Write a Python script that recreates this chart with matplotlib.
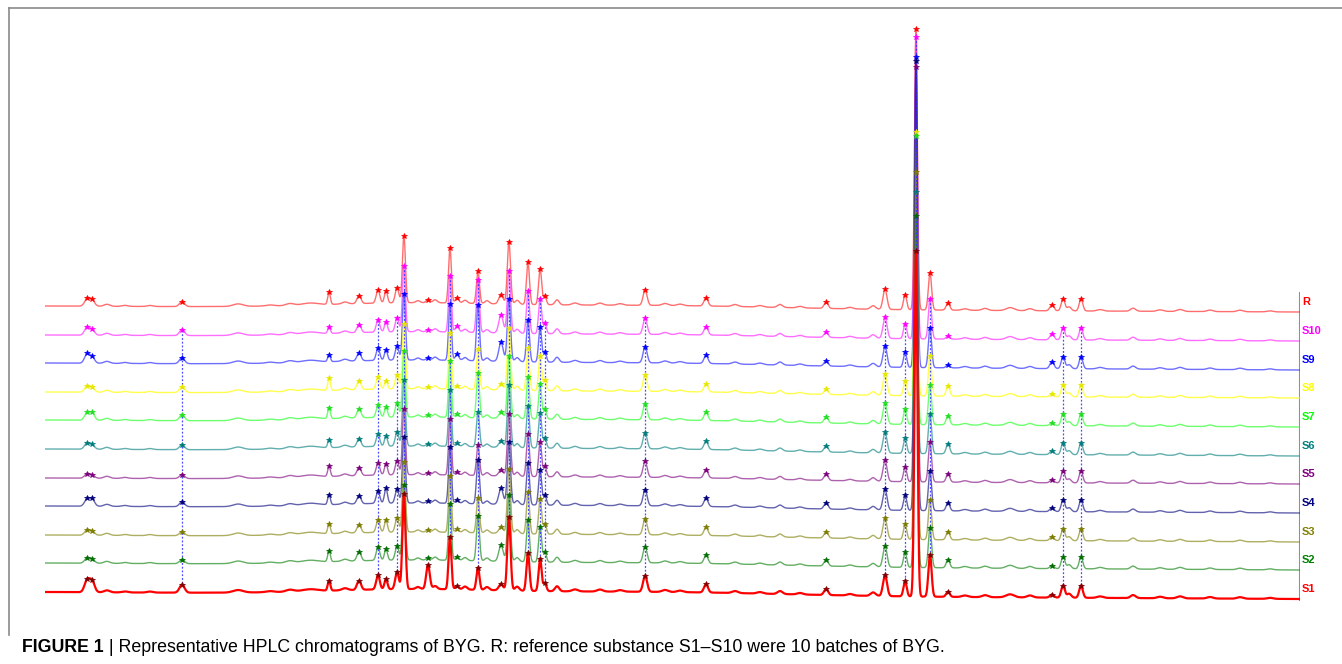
import numpy as np
import matplotlib.pyplot as plt
from matplotlib.lines import Line2D

plt.rcParams['font.family'] = ['Liberation Sans', 'DejaVu Sans']

RUN_MIN = 60.0

# traces from top to bottom
samples = ['R', 'S10', 'S9', 'S8', 'S7', 'S6', 'S5', 'S4', 'S3', 'S2', 'S1']
line_colors = ['#FF3030', '#FF30FF', '#3030FF', '#FFFF00', '#30FF30', '#208C8C',
               '#8C208C', '#20208C', '#8C8C20', '#208C20', '#FF0000']
mark_colors = ['#FF0000', '#FF00FF', '#0000FF', '#E6E600', '#22DD22', '#007B7B',
               '#7B007B', '#00007B', '#7B7B00', '#006B00', '#800000']
label_colors = ['#FF0000', '#FF00FF', '#0000FF', '#FFFF00', '#00FF00', '#008080',
                '#800080', '#000080', '#808000', '#008000', '#FF0000']

# stacked baseline level (mAU) at start / end of the run
base_start = [286, 257, 229, 200, 172, 143, 114, 86, 57, 29, 0]
base_end = [280, 251, 222, 194, 165, 136, 108, 79, 50, 22, -7]

# gradient hump of the baseline (rt, height, sd)
hump_rt = [17.5, 29.0]
hump_h = [4.5, 3.5]
hump_sd = [4.0, 6.0]

# main (integrated) peaks, rt in min, sd in min
rt_main = [2.01, 2.25, 6.55, 13.58, 15.01, 15.92, 16.30, 16.83, 17.16, 18.31,
           19.36, 19.70, 20.70, 21.80, 22.18, 23.09, 23.67, 23.90, 28.69, 31.60,
           37.34, 40.16, 41.12, 41.64, 42.31, 43.17, 48.14, 48.67, 49.53]
sd_main = [0.12, 0.12, 0.12, 0.062, 0.096, 0.086, 0.072, 0.086, 0.072, 0.086,
           0.067, 0.086, 0.072, 0.105, 0.077, 0.072, 0.072, 0.072, 0.096, 0.096,
           0.096, 0.096, 0.077, 0.07, 0.077, 0.086, 0.096, 0.086, 0.086]

h_R   = [7, 6, 5, 12, 8, 13, 12, 15, 67, 3, 55, 5, 32, 9, 62, 42, 36, 8, 15, 8, 6, 20, 15, 281, 37, 7, 6, 12, 12]
h_S10 = [8, 5, 6, 6, 8, 12, 10, 14, 66, 2, 56, 6, 52, 18, 62, 42, 35, 10, 16, 8, 5, 21, 15, 302, 40, 3, 6, 12, 12]
h_S9  = [9, 6, 6, 7, 8, 12, 10, 14, 66, 2, 56, 6, 56, 19, 62, 42, 35, 10, 16, 8, 5, 21, 15, 310, 40, 3, 7, 12, 12]
h_S8  = [6, 4, 6, 12, 9, 12, 8, 14, 65, 2, 56, 3, 40, 6, 62, 42, 35, 10, 16, 8, 5, 21, 15, 264, 40, 10, 3, 12, 12]
h_S7  = [7, 7, 6, 11, 9, 12, 10, 14, 66, 2, 56, 3, 45, 6, 62, 42, 35, 10, 16, 8, 6, 21, 15, 288, 40, 9, 3, 12, 12]
h_S6  = [6, 4, 5, 8, 8, 12, 10, 14, 66, 2, 56, 3, 35, 6, 62, 42, 35, 10, 16, 8, 6, 21, 15, 261, 40, 10, 4, 12, 12]
h_S5  = [4, 3, 4, 10, 8, 12, 11, 14, 66, 2, 56, 3, 30, 6, 62, 42, 35, 10, 16, 8, 6, 21, 15, 415, 40, 8, 3, 12, 12]
h_S4  = [7, 7, 5, 10, 8, 12, 15, 14, 66, 2, 56, 3, 44, 16, 62, 42, 35, 10, 16, 8, 6, 21, 15, 449, 40, 8, 4, 12, 12]
h_S3  = [5, 4, 4, 10, 8, 12, 12, 14, 70, 2, 56, 3, 35, 6, 64, 42, 35, 10, 16, 8, 6, 21, 15, 367, 40, 8, 4, 12, 12]
h_S2  = [5, 4, 4, 11, 9, 13, 11, 14, 75, 2, 56, 3, 45, 16, 66, 42, 35, 10, 16, 8, 6, 21, 15, 351, 40, 8, 3, 12, 12]
h_S1  = [12, 11, 8, 10, 9, 14, 10, 17, 95, 24, 52, 3, 22, 6, 73, 38, 32, 8, 16, 8, 6, 21, 15, 345, 42, 5, 3, 12, 12]
heights = [h_R, h_S10, h_S9, h_S8, h_S7, h_S6, h_S5, h_S4, h_S3, h_S2, h_S1]

# common peaks linked across the batches (indices into rt_main)
common_idx = [2, 5, 7, 8, 10, 12, 14, 15, 16, 17, 18, 21, 22, 23, 24, 27, 28]

# small unlabelled bumps shared by all traces
rt_minor = [2.96, 3.82, 5.02, 9.23, 10.76, 11.71, 12.67, 14.34, 17.83, 18.65,
            20.08, 21.13, 22.57, 24.48, 25.34, 26.53, 27.49, 29.64, 30.36, 32.99,
            34.18, 35.14, 36.10, 38.49, 39.59, 43.98, 44.94, 46.14, 47.09, 48.96,
            50.44, 52.02, 53.31, 54.26, 55.70, 57.13, 58.57]
h_minor = [2, 1, 1, 2.5, 1, 2, 2, 2, 2, 3, 3, 3, 4, 5, 2, 2, 1.5, 2, 1.5, 2,
           1.5, 3, 1.5, 1.5, 3.5, 1.5, 2, 3, 2, 4, 1.5, 3, 1.5, 2, 1.5, 1.5, 1]
sd_minor = [0.14, 0.14, 0.14, 0.24, 0.19, 0.19, 0.38, 0.14, 0.1, 0.1, 0.1, 0.1,
            0.1, 0.1, 0.14, 0.14, 0.14, 0.14, 0.14, 0.14, 0.14, 0.12, 0.14, 0.14,
            0.12, 0.14, 0.14, 0.19, 0.14, 0.1, 0.14, 0.12, 0.14, 0.14, 0.14, 0.14, 0.14]


def gauss(t, rt, h, sd):
    return h * np.exp(-0.5 * ((t - rt) / sd) ** 2)


def trace(t, k):
    y = base_start[k] + (base_end[k] - base_start[k]) * t / RUN_MIN
    for rt, h, sd in zip(hump_rt, hump_h, hump_sd):
        y = y + gauss(t, rt, h, sd)
    for rt, h, sd in zip(rt_minor, h_minor, sd_minor):
        y = y + gauss(t, rt, h, sd)
    for rt, h, sd in zip(rt_main, heights[k], sd_main):
        y = y + gauss(t, rt, h, sd)
    return y


W, H = 1342, 664
fig = plt.figure(figsize=(W / 100, H / 100), dpi=100)
ax = fig.add_axes([45 / W, 44 / H, 1255 / W, 612 / H])
ax.set_xlim(0, RUN_MIN)
ax.set_ylim(-28, 584)
ax.axis('off')

t = np.linspace(0, RUN_MIN, 6001)
rt_arr = np.array(rt_main)
tops = []
for k, name in enumerate(samples):
    lw = 1.6 if name == 'S1' else 1.0
    al = 1.0 if name == 'S1' else 0.7
    ax.plot(t, trace(t, k), color=line_colors[k], lw=lw, alpha=al, zorder=2 + k * 0.1)
    tops.append(trace(rt_arr, k))

# dotted links between S10 and S1 for the common peaks
for i in common_idx:
    ax.plot([rt_main[i], rt_main[i]], [tops[1][i], tops[-1][i]], ls=(0, (1.5, 1.5)),
            color='#2A2AFF', lw=0.9, alpha=0.85, zorder=4)

for k, name in enumerate(samples):
    ax.plot(rt_arr, tops[k], ls='none', marker='*', ms=4, mew=0.5,
            color=mark_colors[k], zorder=5)
    ax.text(RUN_MIN + 0.1, base_end[k] + 10, name, color=label_colors[k], fontsize=8,
            fontweight='bold', ha='left', va='center', zorder=6)

ax.plot([RUN_MIN, RUN_MIN], [-8, 299], color='#909090', lw=1.5, zorder=1)

# outer frame (top and left edges)
fig.add_artist(Line2D([9 / W, 9 / W], [1 - 635 / H, 1 - 8 / H], color='#8a8a8a', lw=1.2))
fig.add_artist(Line2D([9 / W, 1.0], [1 - 8 / H, 1 - 8 / H], color='#8a8a8a', lw=1.2))

cap = fig.text(22 / W, 1 - 648 / H, 'FIGURE 1', fontsize=12.75, fontweight='bold',
               va='center', ha='left')
ax.annotate(' | Representative HPLC chromatograms of BYG. R: reference substance '
            'S1\u2013S10 were 10 batches of BYG.', xy=(1, 0.5), xycoords=cap,
            va='center', ha='left', fontsize=12.75)

fig.savefig('out.png', dpi=100)
